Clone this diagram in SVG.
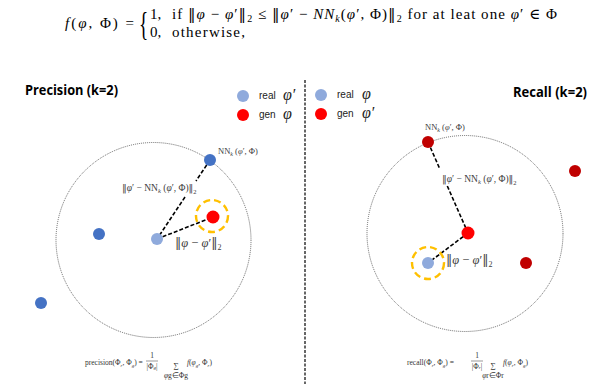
<svg xmlns="http://www.w3.org/2000/svg" width="607" height="384" viewBox="0 0 607 384">
<style>
.m{font-family:"Liberation Serif","DejaVu Serif",serif;fill:#000}
.i{font-style:italic}
.n{font-family:"DejaVu Serif",serif;font-style:normal}
.lbl{font-family:"Liberation Serif","DejaVu Serif",serif;fill:#404040}
.title{font-family:"Open Sans","Liberation Sans",sans-serif;font-weight:bold;font-size:13.5px;fill:#000}
.leg{font-family:"Liberation Sans","Open Sans",sans-serif;font-size:10px;fill:#222}
.legm{font-family:"Liberation Serif",serif;font-style:italic;font-size:16px;fill:#222}
.ring{fill:none;stroke:#444;stroke-width:0.8;stroke-dasharray:1 1}
.conn{fill:none;stroke:#000;stroke-width:1.6;stroke-dasharray:4 2}
.hl{fill:none;stroke:#FFC000;stroke-width:2.4;stroke-dasharray:7 4}
.real{fill:#8FAADC}.blue{fill:#4472C4}.gen{fill:#FF0000}.dred{fill:#C00000}
.small{font-family:"Liberation Serif",serif;font-size:7.5px;fill:#333}
.sub{font-size:5px}
</style>
<rect width="607" height="384" fill="#fff"/>

<!-- top formula -->
<g id="formula">
<text class="m" x="65" y="28" font-size="15" textLength="69" lengthAdjust="spacing"><tspan class="i">f</tspan>(<tspan class="i">φ</tspan>, Φ) =</text>
<text class="m" x="0" y="0" font-size="32" transform="translate(139 35) scale(0.6 1.08)">{</text>
<text class="m" x="150" y="19" font-size="15">1,</text>
<text class="m" x="172" y="19" font-size="15" textLength="385" lengthAdjust="spacing">if <tspan class="n">‖</tspan><tspan class="i">φ</tspan> − <tspan class="i">φ</tspan>′<tspan class="n">‖</tspan><tspan font-size="10" dy="3">2</tspan><tspan dy="-3"> ≤ </tspan><tspan class="n">‖</tspan><tspan class="i">φ</tspan>′ − <tspan class="i">NN</tspan><tspan class="i" font-size="10" dy="3">k</tspan><tspan dy="-3">(</tspan><tspan class="i">φ</tspan>′, Φ)<tspan class="n">‖</tspan><tspan font-size="10" dy="3">2</tspan><tspan dy="-3"> for at leat one </tspan><tspan class="i">φ</tspan>′ ∈ Φ</text>
<text class="m" x="150" y="37" font-size="15">0,</text>
<text class="m" x="172" y="37" font-size="15" textLength="73" lengthAdjust="spacing">otherwise,</text>
</g>

<!-- divider -->
<g id="divider">
<line x1="305" y1="80" x2="305" y2="384" stroke="#666" stroke-width="2" stroke-dasharray="3 1.5"/>
</g>

<!-- Precision panel -->
<g id="precision-title"><text class="title" x="25" y="95" textLength="93" lengthAdjust="spacingAndGlyphs">Precision (k=2)</text></g>
<g id="precision-legend">
<circle class="real" cx="243" cy="96" r="6"/>
<text class="leg" x="259" y="99">real</text><text class="legm" x="283" y="100">φ′</text>
<circle class="gen" cx="243" cy="115" r="6"/>
<text class="leg" x="259" y="118">gen</text><text class="legm" x="283" y="119">φ</text>
</g>
<g id="precision-ring"><circle class="ring" cx="153.5" cy="240" r="97.5"/></g>

<g id="precision-connectors">
<line class="conn" x1="210" y1="160" x2="196" y2="181"/>
<line class="conn" x1="185" y1="197" x2="157" y2="239"/>
<line class="conn" x1="157" y1="239" x2="213" y2="217"/>
</g>

<g id="p-nn"><circle class="blue" cx="210" cy="160" r="6"/>
<text class="lbl" x="218" y="154" font-size="8.5">NN<tspan class="i" font-size="6" dy="2">k</tspan><tspan dy="-2"> (</tspan><tspan class="i">φ</tspan>′, Φ)</text></g>
<g id="p-real"><circle class="real" cx="157" cy="239" r="6"/></g>
<g id="p-gen"><circle class="hl" cx="212" cy="216" r="16"/><circle class="gen" cx="213" cy="217" r="6.5"/></g>
<g id="p-blue1"><circle class="blue" cx="99" cy="234" r="6"/></g>
<g id="p-blue2"><circle class="blue" cx="41" cy="303" r="6"/></g>
<g id="p-labels">
<text class="lbl" x="122" y="191" font-size="9.5"><tspan class="n">‖</tspan><tspan class="i">φ</tspan>′ − NN<tspan class="i" font-size="6.5" dy="2">k</tspan><tspan dy="-2"> (</tspan><tspan class="i">φ</tspan>′, Φ)<tspan class="n">‖</tspan><tspan font-size="6.5" dy="3">2</tspan></text>
<text class="lbl" x="175" y="247" font-size="12.5"><tspan class="n">‖</tspan><tspan class="i">φ</tspan> − <tspan class="i">φ</tspan>′<tspan class="n">‖</tspan><tspan font-size="8" dy="3">2</tspan></text>
</g>

<g id="precision-formula">
<text class="small" x="85" y="365">precision(Φ<tspan class="sub i" dy="1.5">r</tspan><tspan dy="-1.5">, Φ</tspan><tspan class="sub i" dy="1.5">g</tspan><tspan dy="-1.5">) =</tspan></text>
<text class="small" x="152" y="358" text-anchor="middle">1</text>
<line x1="146" y1="361" x2="158" y2="361" stroke="#333" stroke-width="0.5"/>
<text class="small" x="152" y="369" text-anchor="middle">|Φ<tspan class="sub i">g</tspan>|</text>
<text class="small" x="176" y="368" text-anchor="middle" font-size="10">∑</text>
<text class="small" x="176" y="378" text-anchor="middle" font-size="4.5"><tspan class="i">φ</tspan>g∈Φg</text>
<text class="small" x="187" y="365"><tspan class="i">f</tspan>(<tspan class="i">φ</tspan><tspan class="sub i" dy="1.5">g</tspan><tspan dy="-1.5">, Φ</tspan><tspan class="sub i" dy="1.5">r</tspan><tspan dy="-1.5">)</tspan></text>
</g>

<!-- Recall panel -->
<g id="recall-title"><text class="title" x="513" y="97" textLength="74" lengthAdjust="spacingAndGlyphs">Recall (k=2)</text></g>
<g id="recall-legend">
<circle class="real" cx="321" cy="95" r="6"/>
<text class="leg" x="337" y="98">real</text><text class="legm" x="362" y="99">φ</text>
<circle class="gen" cx="321" cy="114" r="6"/>
<text class="leg" x="337" y="117">gen</text><text class="legm" x="362" y="118">φ′</text>
</g>
<g id="recall-ring"><circle class="ring" cx="465" cy="233.5" r="98"/></g>

<g id="recall-connectors">
<line class="conn" x1="428" y1="142" x2="439.4" y2="168"/>
<line class="conn" x1="447.3" y1="186" x2="468" y2="233"/>
<line class="conn" x1="468" y1="233" x2="428" y2="263"/>
</g>

<g id="r-nn"><circle class="dred" cx="428" cy="142" r="6"/>
<text class="lbl" x="425" y="130" font-size="8.5">NN<tspan class="i" font-size="6" dy="2">k</tspan><tspan dy="-2"> (</tspan><tspan class="i">φ</tspan>′, Φ)</text></g>
<g id="r-gen"><circle class="gen" cx="468" cy="233" r="6.5"/></g>
<g id="r-real"><circle class="hl" cx="428" cy="263" r="16"/><circle class="real" cx="428" cy="263" r="6"/></g>
<g id="r-dred1"><circle class="dred" cx="575" cy="171" r="6"/></g>
<g id="r-dred2"><circle class="dred" cx="526" cy="263" r="6"/></g>
<g id="r-labels">
<text class="lbl" x="442" y="182" font-size="9.5"><tspan class="n">‖</tspan><tspan class="i">φ</tspan>′ − NN<tspan class="i" font-size="6.5" dy="2">k</tspan><tspan dy="-2"> (</tspan><tspan class="i">φ</tspan>′, Φ)<tspan class="n">‖</tspan><tspan font-size="6.5" dy="3">2</tspan></text>
<text class="lbl" x="446" y="264" font-size="12.5"><tspan class="n">‖</tspan><tspan class="i">φ</tspan> − <tspan class="i">φ</tspan>′<tspan class="n">‖</tspan><tspan font-size="8" dy="3">2</tspan></text>
</g>

<g id="recall-formula">
<text class="small" x="407" y="365">recall(Φ<tspan class="sub i" dy="1.5">r</tspan><tspan dy="-1.5">, Φ</tspan><tspan class="sub i" dy="1.5">g</tspan><tspan dy="-1.5">) =</tspan></text>
<text class="small" x="477" y="358" text-anchor="middle">1</text>
<line x1="471" y1="361" x2="483" y2="361" stroke="#333" stroke-width="0.5"/>
<text class="small" x="477" y="369" text-anchor="middle">|Φ<tspan class="sub i">r</tspan>|</text>
<text class="small" x="493" y="368" text-anchor="middle" font-size="10">∑</text>
<text class="small" x="493" y="378" text-anchor="middle" font-size="4.5"><tspan class="i">φ</tspan>r∈Φr</text>
<text class="small" x="503" y="365"><tspan class="i">f</tspan>(<tspan class="i">φ</tspan><tspan class="sub i" dy="1.5">r</tspan><tspan dy="-1.5">, Φ</tspan><tspan class="sub i" dy="1.5">g</tspan><tspan dy="-1.5">)</tspan></text>
</g>
</svg>
